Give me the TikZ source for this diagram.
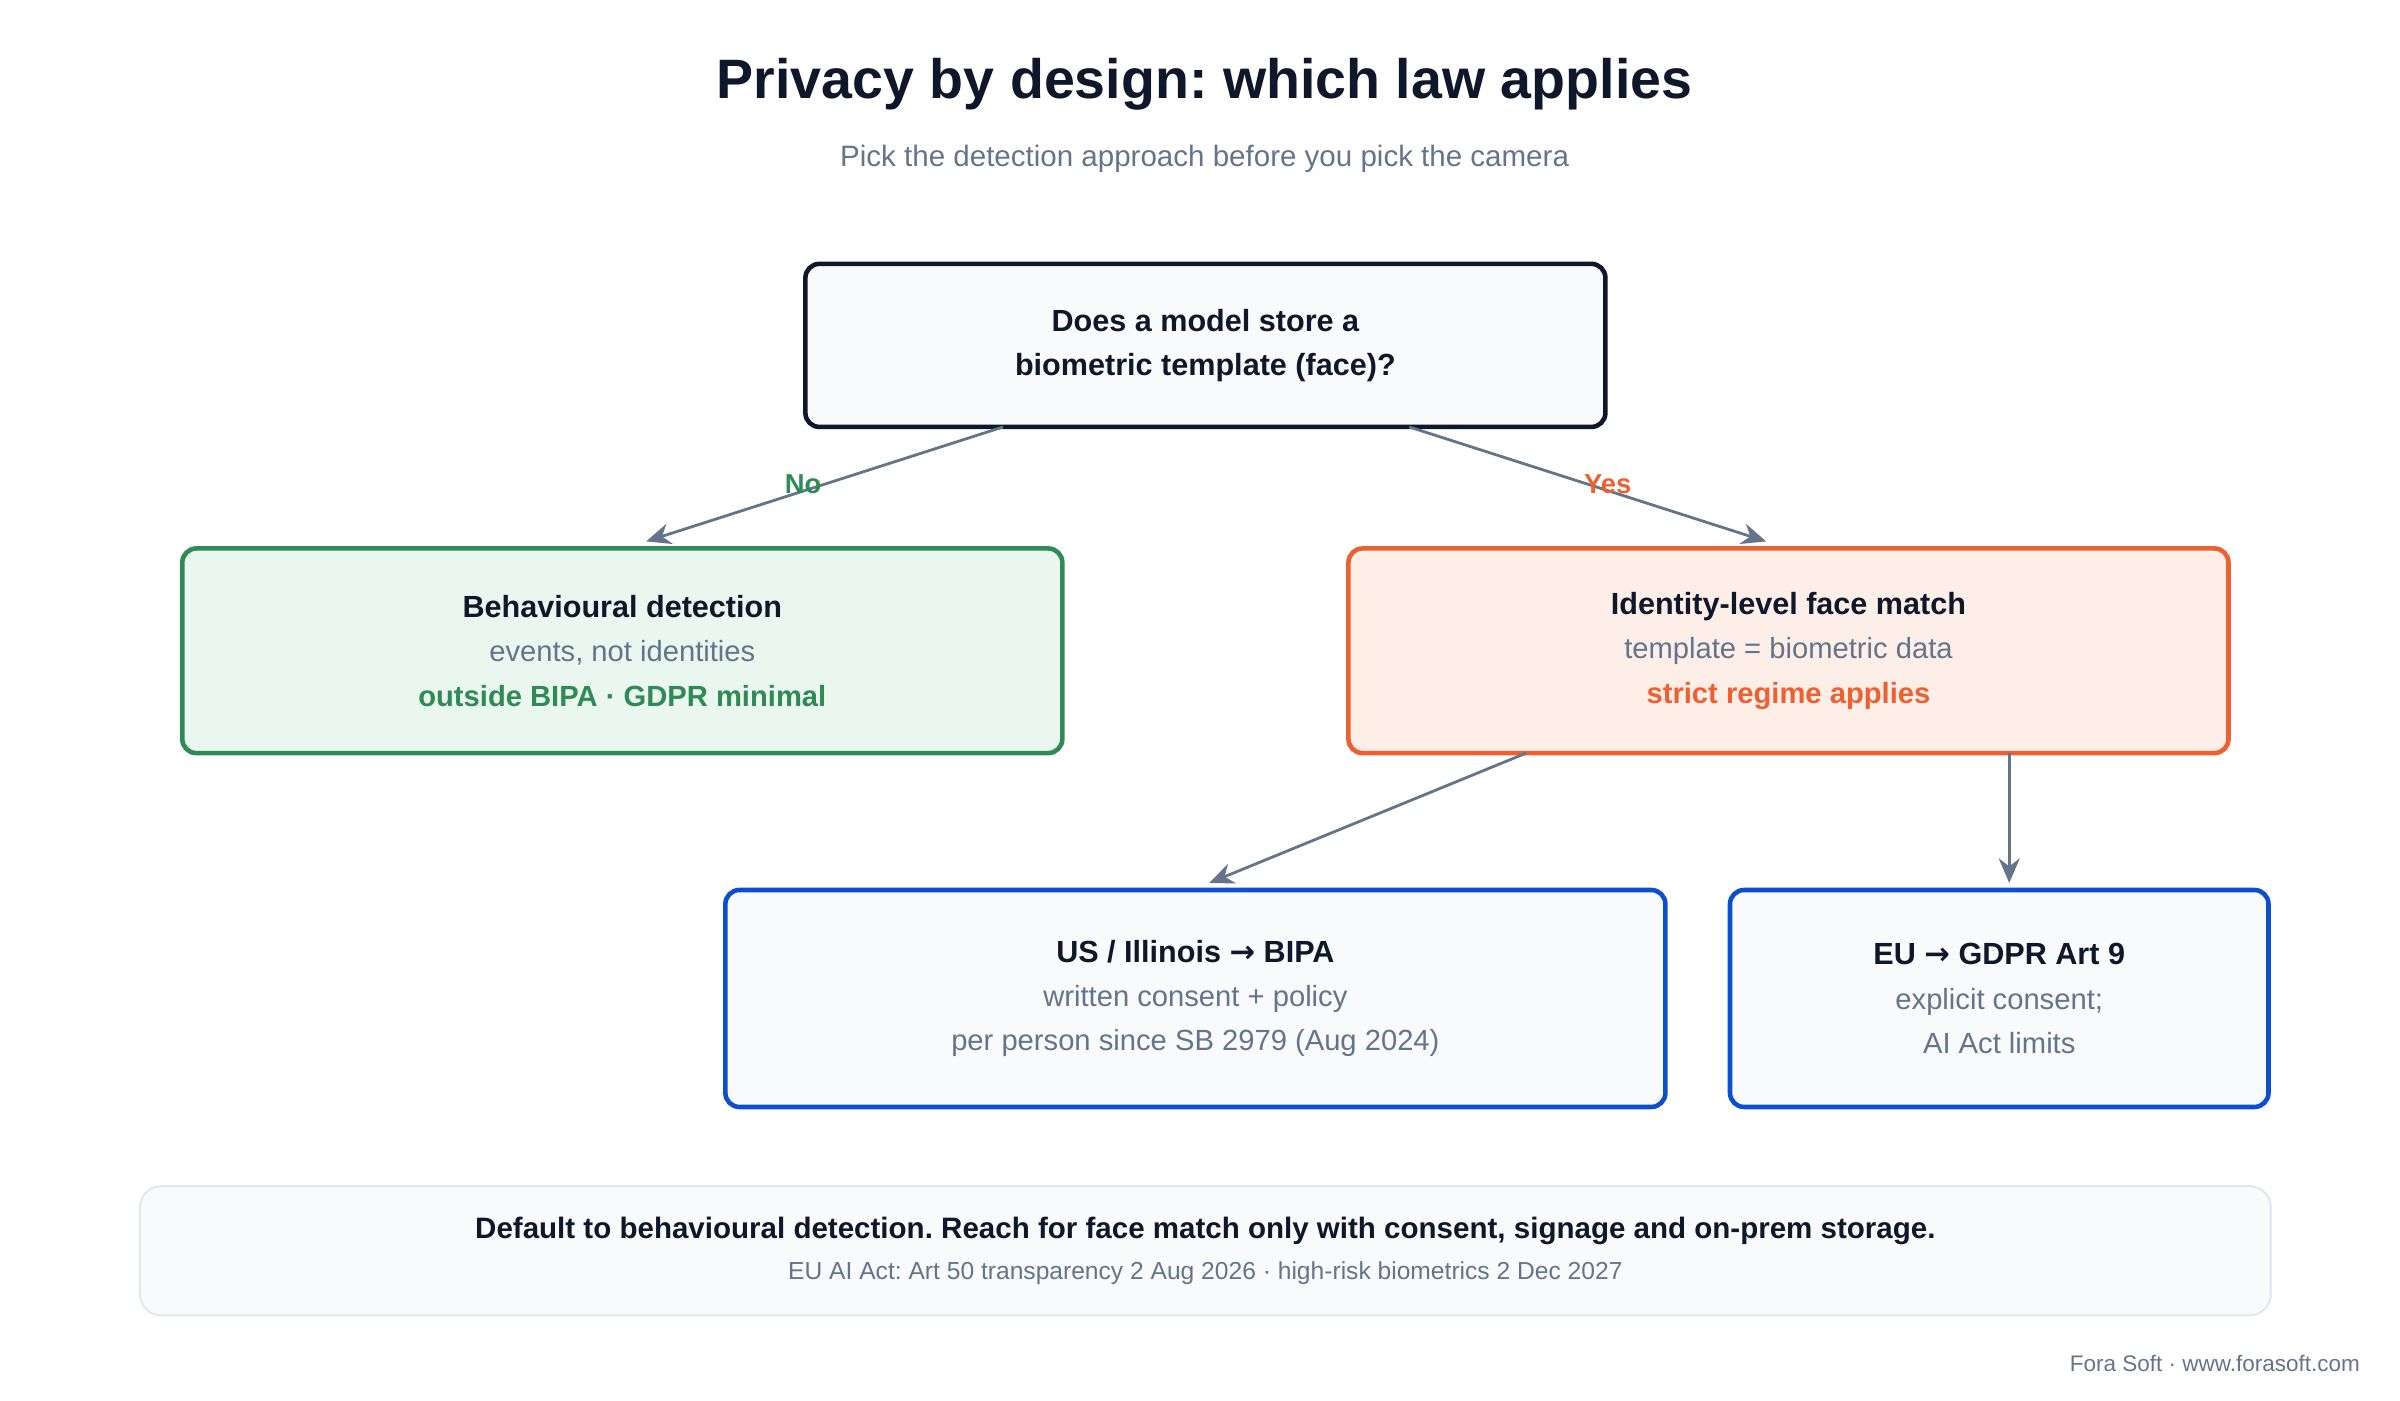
\documentclass[tikz,border=0pt]{standalone}
\usepackage{fontspec}
\setmainfont{Liberation Sans}
\newfontfamily\arrowfont{DejaVu Sans}
\frenchspacing
\usetikzlibrary{arrows.meta,positioning}
\definecolor{ink}{HTML}{0F172A}
\definecolor{slate}{HTML}{64748B}
\definecolor{nogreen}{HTML}{2F8A55}
\definecolor{nofill}{HTML}{E9F7EF}
\definecolor{yesorange}{HTML}{EF5F2F}
\definecolor{yesfill}{HTML}{FDEEE8}
\definecolor{lawblue}{HTML}{0B4FD0}
\definecolor{paper}{HTML}{F8FAFC}
\definecolor{rule}{HTML}{E2E8F0}
\def\U{0.01538cm}
\def\to{{\arrowfont →}}
\tikzset{
  box/.style={draw, rounded corners=4pt, line width=1.3pt, align=center, outer sep=0pt,
    font=\fontsize{8.3}{12.6}\selectfont, text=slate},
  question/.style={box, draw=ink, fill=paper, text=ink,
    minimum width=523*\U-1.3pt, minimum height=109*\U-1.3pt},
  nobox/.style={box, draw=nogreen, fill=nofill, minimum width=575*\U-1.3pt, minimum height=136*\U-1.3pt},
  yesbox/.style={box, draw=yesorange, fill=yesfill, minimum width=575*\U-1.3pt, minimum height=136*\U-1.3pt},
  law/.style={box, draw=lawblue, fill=paper, minimum height=144*\U-1.3pt},
  arr/.style={draw=slate, line width=0.8pt, -{Stealth[length=7pt,width=6pt]}},
  branch/.style={font=\bfseries\fontsize{7.8}{9}\selectfont},
}
\begin{document}
\begin{tikzpicture}[x=\U,y=-\U]
\useasboundingbox (0,0) rectangle (1560,910);
% titles
\node[font=\bfseries\fontsize{15.8}{18}\selectfont, text=ink] (title) at (783,55) {Privacy by design: which law applies};
\node[font=\fontsize{8.4}{10}\selectfont, text=slate] (subtitle) at (783,103) {Pick the detection approach before you pick the camera};
% decision
\node[question] (q) at (783.5,224.5) {\fontsize{8.7}{12.6}\selectfont\bfseries Does a model store a\\\fontsize{8.7}{12.6}\selectfont\bfseries biometric template (face)?};
\node[nobox] (behav) at (404.5,423) {{\fontsize{8.7}{12.6}\selectfont\bfseries\color{ink}Behavioural detection}\\events, not identities\\{\bfseries\color{nogreen}outside BIPA · GDPR minimal}};
\node[yesbox] (face) at (1162.5,423) {{\fontsize{8.7}{12.6}\selectfont\bfseries\color{ink}Identity-level face match}\\template = biometric data\\{\bfseries\color{yesorange}strict regime applies}};
% laws
\node[law, minimum width=614*\U-1.3pt] (bipa) at (777,649) {{\fontsize{8.7}{12.6}\selectfont\bfseries\color{ink}US / Illinois \to\ BIPA}\\written consent + policy\\per person since SB 2979 (Aug 2024)};
\node[law, minimum width=353*\U-1.3pt] (gdpr) at (1299.5,649) {{\fontsize{8.7}{12.6}\selectfont\bfseries\color{ink}EU \to\ GDPR Art 9}\\explicit consent;\\AI Act limits};
% connectors
\draw[arr] ([xshift=-131.5*\U]q.south) -- ([xshift=15.5*\U, yshift=2pt]behav.north);
\draw[arr] ([xshift=132.5*\U]q.south) -- ([xshift=-14.5*\U, yshift=2pt]face.north);
\draw[arr] ([xshift=-170.5*\U]face.south) -- ([xshift=9*\U, yshift=2pt]bipa.north);
\draw[arr] ([xshift=143.5*\U]face.south) -- ([xshift=6.5*\U, yshift=2pt]gdpr.north);
\node[branch, text=nogreen] (no) at (522,315) {No};
\node[branch, text=yesorange] (yes) at (1045,315) {Yes};
% footer
\node[draw=rule, fill=paper, rounded corners=6pt, line width=0.6pt, minimum width=1385*\U, minimum height=84*\U, align=center, font=\fontsize{8.4}{12.6}\selectfont, text=ink] (note) at (783.5,813)
  {\bfseries Default to behavioural detection. Reach for face match only with consent, signage and on-prem storage.\\[-1pt]{\mdseries\fontsize{7}{9}\selectfont\color{slate}EU AI Act: Art 50 transparency 2 Aug 2026 · high-risk biometrics 2 Dec 2027}};
\node[anchor=east, font=\fontsize{6.4}{8}\selectfont, text=slate] (credit) at (1542,886) {Fora Soft · www.forasoft.com};
\end{tikzpicture}
\end{document}
